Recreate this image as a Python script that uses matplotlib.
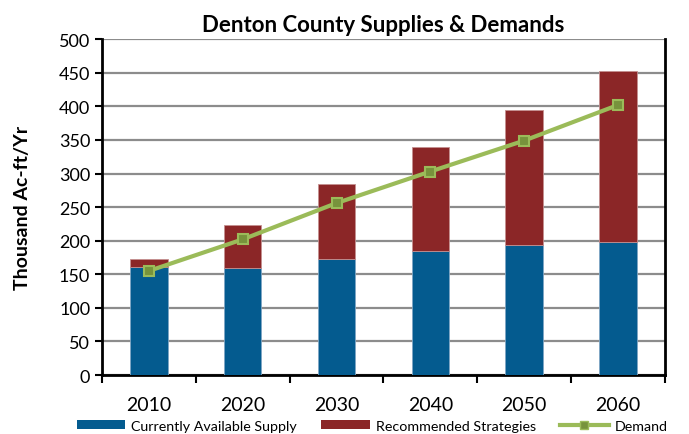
import matplotlib
matplotlib.use("Agg")
import matplotlib.pyplot as plt
import numpy as np
from matplotlib.patches import Patch
from matplotlib.lines import Line2D

years = ["2010", "2020", "2030", "2040", "2050", "2060"]
supply = [161, 159, 173, 185, 194, 198]
strategies = [11, 64, 111, 155, 201, 254]
demand = [155, 202, 256, 303, 349, 402]

plt.rcParams["font.family"] = ["Lato", "DejaVu Sans"]

fig = plt.figure(figsize=(6.89, 4.35), dpi=100)
ax = fig.add_axes([0.148, 0.1356, 0.817, 0.772])

x = np.arange(len(years))
blue = "#045B8F"
red = "#8B2627"
green = "#9BBB59"

ax.bar(x, supply, width=0.4, color=blue, edgecolor="#7fa6c4", linewidth=0.6, zorder=3)
ax.bar(x, strategies, width=0.4, bottom=supply, color=red, edgecolor="#c49090",
       linewidth=0.6, zorder=3)
ax.plot(x, demand, color=green, linewidth=3, marker="s", markersize=7,
        markerfacecolor="#77933C", markeredgecolor=green, markeredgewidth=1.5, zorder=4)

ax.set_xlim(-0.5, len(years) - 0.5)
ax.set_ylim(0, 500)
ax.set_yticks(range(0, 501, 50))
ax.tick_params(axis="y", labelsize=13, length=5, width=1.5, direction="out")
ax.set_xticks(np.arange(-0.5, len(years), 1))
ax.set_xticklabels([])
ax.set_xticks(x, minor=True)
ax.set_xticklabels(years, minor=True, fontsize=14)
ax.tick_params(axis="x", which="major", length=6, width=1.5, direction="out")
ax.tick_params(axis="x", which="minor", length=0, pad=15)

ax.yaxis.grid(True, color="#8c8c8c", linewidth=1.6, zorder=0)
ax.set_axisbelow(True)
for side in ["left", "bottom", "right"]:
    ax.spines[side].set_linewidth(2)
    ax.spines[side].set_color("black")
ax.spines["top"].set_visible(False)

ax.set_ylabel("Thousand Ac-ft/Yr", fontsize=14, fontweight="bold", labelpad=20)
ax.set_title("Denton County Supplies & Demands", fontsize=16, fontweight="bold", pad=6)

handles = [
    Patch(facecolor=blue, edgecolor="none"),
    Patch(facecolor=red, edgecolor="none"),
    Line2D([0], [0], color=green, linewidth=3, marker="s", markersize=6,
           markerfacecolor="#77933C", markeredgecolor=green),
]
labels = ["Currently Available Supply", "Recommended Strategies", "Demand"]
fig.legend(handles, labels, loc="lower center", bbox_to_anchor=(0.54, -0.025), ncol=3,
           frameon=False, fontsize=10.3, handlelength=3.4, handleheight=0.6,
           columnspacing=1.7, handletextpad=0.4)

fig.savefig("out.png", dpi=100)
